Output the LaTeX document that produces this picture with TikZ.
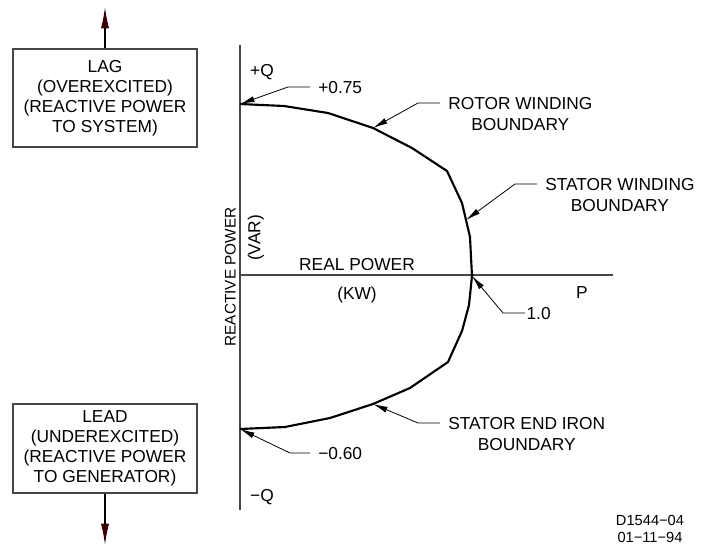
\documentclass[tikz,border=0pt]{standalone}
\usepackage{fontspec}
\setmainfont{Liberation Sans}
\usepackage{xcolor}
\usepackage{tikz}
\usetikzlibrary{positioning}
\usetikzlibrary{calc}
\usetikzlibrary{arrows.meta}
\definecolor{tipred}{RGB}{60,0,0}
\definecolor{axisgray}{RGB}{70,70,70}
\tikzset{lbl/.style={inner xsep=6pt, inner ysep=1pt, font=\fontsize{13}{15}\selectfont, text height=9.4pt, text depth=0pt}}
\tikzset{lead/.style={line width=0.6pt, -{Latex[length=11pt,width=4.5pt]}}}
\tikzset{infobox/.style={draw=axisgray, line width=0.8pt, align=center, minimum width=138pt, font=\fontsize{13}{15}\selectfont}}
\tikzset{axis/.style={draw=axisgray, line width=0.8pt}}
\tikzset{bound/.style={line width=1.6pt, line join=round}}
\tikzset{sense/.style={line width=0.8pt, -{Latex[length=16pt,width=6pt,color=tipred]}}}

\begin{document}
\begin{tikzpicture}[x=0.75pt, y=-0.75pt, node distance=4.4pt]
\useasboundingbox (0,0) rectangle (701,547);

% axes
\coordinate (qtop) at (240,45);
\coordinate (qbot) at (240,510);
\coordinate (orig) at (240,275);
\coordinate (pend) at (613,275);
\draw[axis] (qtop) -- (qbot);
\draw[axis] (orig) -- (pend);

\node[lbl] (plusq) at (262,70) {+Q};
\node[lbl] (minusq) at (262,495) {−Q};
\node[lbl] (pax) at (582,292) {P};
\node[lbl] (realp) at (357,264) {REAL POWER};
\node[lbl] (kw) at (357,293) {(KW)};
\node[lbl, rotate=90, font=\fontsize{11.5}{13}\selectfont, text height=8.4pt] (reactp) at (230,277) {REACTIVE POWER};
\node[lbl, rotate=90] (var) at (254,238) {(VAR)};

% capability curve
\coordinate (c0) at (240,104);
\coordinate (c1) at (284,106);
\coordinate (c2) at (328,113);
\coordinate (c3) at (373,128);
\coordinate (c4) at (412,148);
\coordinate (c5) at (447,171);
\coordinate (c6) at (462,203);
\coordinate (c7) at (470,237);
\coordinate (c8) at (472,276);
\coordinate (c9) at (469,305);
\coordinate (c10) at (462,331);
\coordinate (c11) at (448,362);
\coordinate (c12) at (410,388);
\coordinate (c13) at (373,404);
\coordinate (c14) at (330,418);
\coordinate (c15) at (285,427);
\coordinate (c16) at (240,429);
\draw[bound] (c0) -- (c1) -- (c2) -- (c3) -- (c4) -- (c5) -- (c6) -- (c7) -- (c8)
  -- (c9) -- (c10) -- (c11) -- (c12) -- (c13) -- (c14) -- (c15) -- (c16);

% leaders
\node[lbl, anchor=west] (qmax) at (310,87) {+0.75};
\coordinate (qmaxbend) at (288,87);
\draw[lead] (qmax.west) -- (qmaxbend) -- (c0);

\node[lbl, anchor=west] (rotor) at (440,103) {ROTOR WINDING};
\node[lbl, below=of rotor] (rotorb) {BOUNDARY};
\coordinate (rotorbend) at (418,103);
\draw[lead] (rotor.west) -- (rotorbend) -- (c3);

\node[lbl, anchor=west] (stator) at (537,184) {STATOR WINDING};
\node[lbl, below=of stator] (statorb) {BOUNDARY};
\coordinate (statorbend) at (515,184);
\draw[lead] (stator.west) -- (statorbend) -- ($(c6)!0.5!(c7)$);

\node[lbl, anchor=west, inner xsep=1pt] (pmax) at (525,313) {1.0};
\coordinate (pmaxbend) at (503,313);
\draw[lead] (pmax.west) -- (pmaxbend) -- (c8);

\node[lbl, anchor=west] (endiron) at (440,423) {STATOR END IRON};
\node[lbl, below=of endiron] (endironb) {BOUNDARY};
\coordinate (endironbend) at (418,423);
\draw[lead] (endiron.west) -- (endironbend) -- (c13);

\node[lbl, anchor=west] (qmin) at (310,453) {−0.60};
\coordinate (qminbend) at (290,453);
\draw[lead] (qmin.west) -- (qminbend) -- (c16);

% lag / lead boxes
\node[infobox, minimum height=73.5pt] (lag) at (105,98)
  {LAG\\(OVEREXCITED)\\(REACTIVE POWER\\TO SYSTEM)};
\node[infobox, minimum height=66.75pt] (lead) at (105,448.5)
  {LEAD\\(UNDEREXCITED)\\(REACTIVE POWER\\TO GENERATOR)};
\coordinate (lagtip) at (105,7);
\coordinate (leadtip) at (105,545);
\draw[sense] (lag.north) -- (lagtip);
\draw[sense] (lead.south) -- (leadtip);

\node[align=center, font=\fontsize{11}{12.75}\selectfont] (dwgno) at (650,529) {D1544−04\\01−11−94};
\end{tikzpicture}
\end{document}
